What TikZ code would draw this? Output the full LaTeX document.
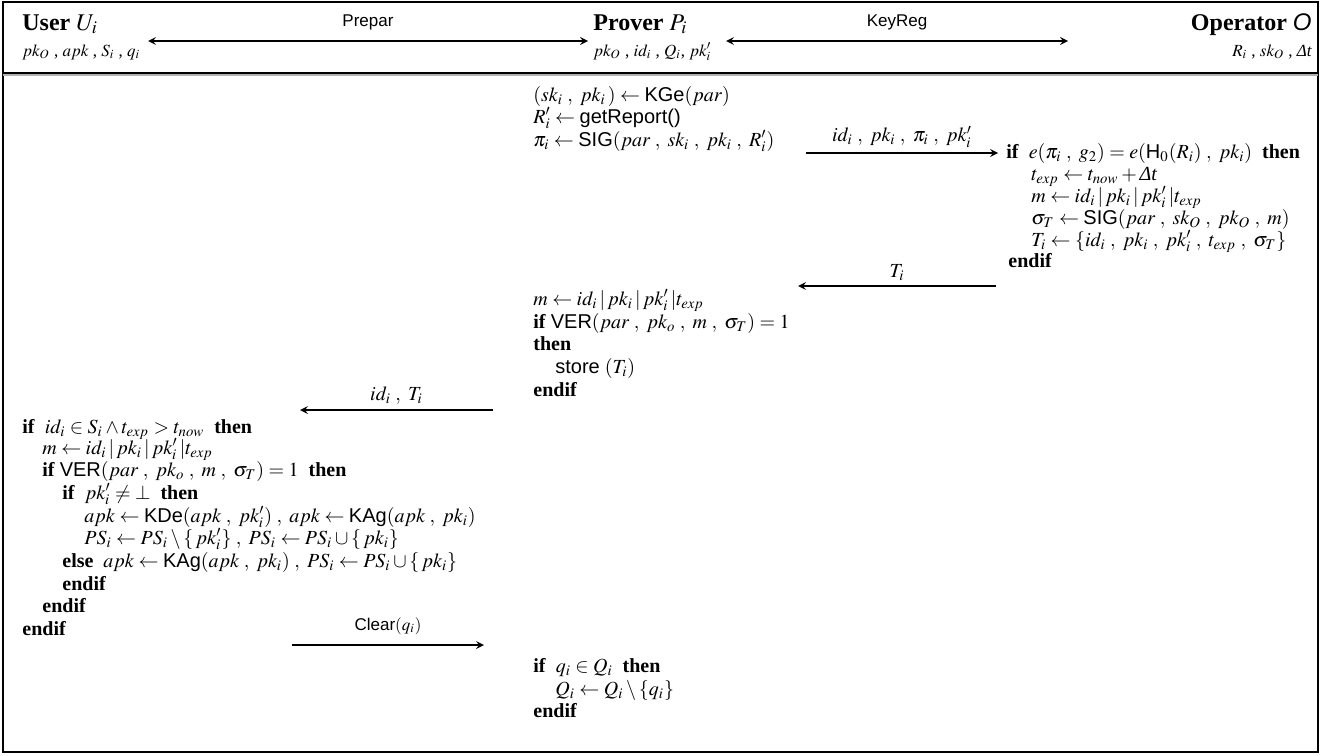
\documentclass[tikz,border=0pt]{standalone}
\usepackage{mathptmx}
\usepackage[no-math]{fontspec}
\setmainfont{Liberation Serif}
\setsansfont{Liberation Sans}
\usetikzlibrary{positioning}

\newcommand{\kw}[1]{\textbf{#1}}
\newcommand{\fn}[1]{\textsf{#1}}
\newcommand{\sepc}{\;,\ }
\newcommand{\dlt}{\mbox{\itshape Δt}}

\begin{document}
\begin{tikzpicture}[x=0.5pt, y=-0.5pt, >=stealth,
    every node/.style={inner sep=0pt, anchor=base west, font=\fontsize{10}{12}\selectfont},
    party/.style={font=\fontsize{12}{14}\selectfont},
    pvars/.style={font=\fontsize{8.5}{10}\selectfont},
    sflbl/.style={font=\sffamily\fontsize{8.5}{10}\selectfont},
    msg/.style={->, line width=0.75pt},
    both/.style={<->, line width=0.75pt}]
    \useasboundingbox (0,0) rectangle (1321,755);
    \draw[line width=0.8pt] (3,2) rectangle (1318,752);

    % ===== header =====
    \draw[line width=1pt] (3,73) -- (1318,73);
    \draw[gray!60, line width=0.6pt] (3,75) -- (1318,75);

    \node[party] (user) at (22,30) {\textbf{User} $U_i$};
    \node[pvars] (uvars) at (22,56) {$pk_O$ , $apk$ , $S_i$ , $q_i$};
    \node[party] (prover) at (593,30) {\textbf{Prover} $P_i$};
    \node[pvars] (pvars) at (593,56) {$pk_O$ , $id_i$ , $Q_i$, $pk'_i$};
    \node[party, anchor=base east] (oper) at (1312,30) {\textbf{Operator} \textsf{\itshape O}};
    \node[pvars, anchor=base east] (ovars) at (1312,56) {$R_i$ , $sk_O$ , \dlt};

    \coordinate (prepA) at (148,41);
    \coordinate (prepB) at (588,41);
    \coordinate (regA) at (726,41);
    \coordinate (regB) at (1068,41);
    \draw[both] (prepA) -- node[sflbl, anchor=south, above=5pt] (prep) {Prepar} (prepB);
    \draw[both] (regA) -- node[sflbl, anchor=south, above=5pt] (keyreg) {KeyReg} (regB);

    % ===== prover: key generation =====
    \node (p1) at (533,101) {$(sk_i\sepc pk_i\,) \leftarrow \fn{KGe}(par)$};
    \node (p2) at (533,123) {$R'_i \leftarrow \fn{getReport()}$};
    \node (p3) at (533,146) {$\pi_i \leftarrow \fn{SIG}(par\sepc sk_i\sepc pk_i\sepc R'_i)$};

    \coordinate (m1a) at (806,153);
    \coordinate (m1b) at (998,153);
    \draw[msg] (m1a) -- node[anchor=south, above=2.5pt] (m1) {$id_i\sepc pk_i\sepc \pi_i\sepc pk'_i$} (m1b);

    % ===== operator =====
    \node (o1) at (1006,158) {\kw{if}\ \ $e(\pi_i\sepc g_2) = e(\fn{H}_0(R_i)\sepc pk_i)$\ \ \kw{then}};
    \node (o2) at (1031,180) {$t_{exp} \leftarrow t_{now} + {}$\dlt};
    \node (o3) at (1031,202) {$m \leftarrow id_i\,|\,pk_i\,|\,pk'_i\,|t_{exp}$};
    \node (o4) at (1031,224) {$\sigma_T \leftarrow \fn{SIG}(par\sepc sk_O\sepc pk_O\sepc m)$};
    \node (o5) at (1031,246) {$T_i \leftarrow \{id_i\sepc pk_i\sepc pk'_i\sepc t_{exp}\sepc \sigma_T\}$};
    \node (o6) at (1008,267) {\kw{endif}};

    \coordinate (m2a) at (996,286);
    \coordinate (m2b) at (798,286);
    \draw[msg] (m2a) -- node[anchor=south, above=2.5pt] (m2) {$T_i$} (m2b);

    % ===== prover: store ticket =====
    \node (q1) at (533,305) {$m \leftarrow id_i\,|\,pk_i\,|\,pk'_i\,|t_{exp}$};
    \node (q2) at (533,328) {\kw{if}\ \fn{VER}$(par\sepc pk_o\sepc m\sepc \sigma_T) = 1$};
    \node (q3) at (533,350) {\kw{then}};
    \node (q4) at (555,373) {\fn{store} $(T_i)$};
    \node (q5) at (533,396) {\kw{endif}};

    \coordinate (m3a) at (493,410);
    \coordinate (m3b) at (300,410);
    \draw[msg] (m3a) -- node[anchor=south, above=2.5pt] (m3) {$id_i\sepc T_i$} (m3b);

    % ===== user =====
    \node (u1) at (22,433) {\kw{if}\ \ $id_i \in S_i \wedge t_{exp} > t_{now}$\ \ \kw{then}};
    \node (u2) at (42,454) {$m \leftarrow id_i\,|\,pk_i\,|\,pk'_i\,|t_{exp}$};
    \node (u3) at (42,476) {\kw{if}\ \fn{VER}$(par\sepc pk_o\sepc m\sepc \sigma_T) = 1$\ \ \kw{then}};
    \node (u4) at (62,499) {\kw{if}\ \ $pk'_i \neq \bot$\ \ \kw{then}};
    \node (u5) at (84,522) {$apk \leftarrow \fn{KDe}(apk\sepc pk'_i)\sepc apk \leftarrow \fn{KAg}(apk\sepc pk_i)$};
    \node (u6) at (84,544) {$PS_i \leftarrow PS_i \setminus \{\,pk'_i\}\sepc PS_i \leftarrow PS_i \cup \{\,pk_i\}$};
    \node (u7) at (62,567) {\kw{else}\ \ $apk \leftarrow \fn{KAg}(apk\sepc pk_i)\sepc PS_i \leftarrow PS_i \cup \{\,pk_i\}$};
    \node (u8) at (62,590) {\kw{endif}};
    \node (u9) at (42,612) {\kw{endif}};
    \node (u10) at (22,635) {\kw{endif}};

    \coordinate (m4a) at (292,645);
    \coordinate (m4b) at (484,645);
    \draw[msg] (m4a) -- node[sflbl, anchor=south, above=5pt] (m4) {Clear$(q_i)$} (m4b);

    % ===== prover: clear =====
    \node (r1) at (533,672) {\kw{if}\ \ $q_i \in Q_i$\ \ \kw{then}};
    \node (r2) at (555,695) {$Q_i \leftarrow Q_i \setminus \{q_i\}$};
    \node (r3) at (533,717) {\kw{endif}};
\end{tikzpicture}
\end{document}
